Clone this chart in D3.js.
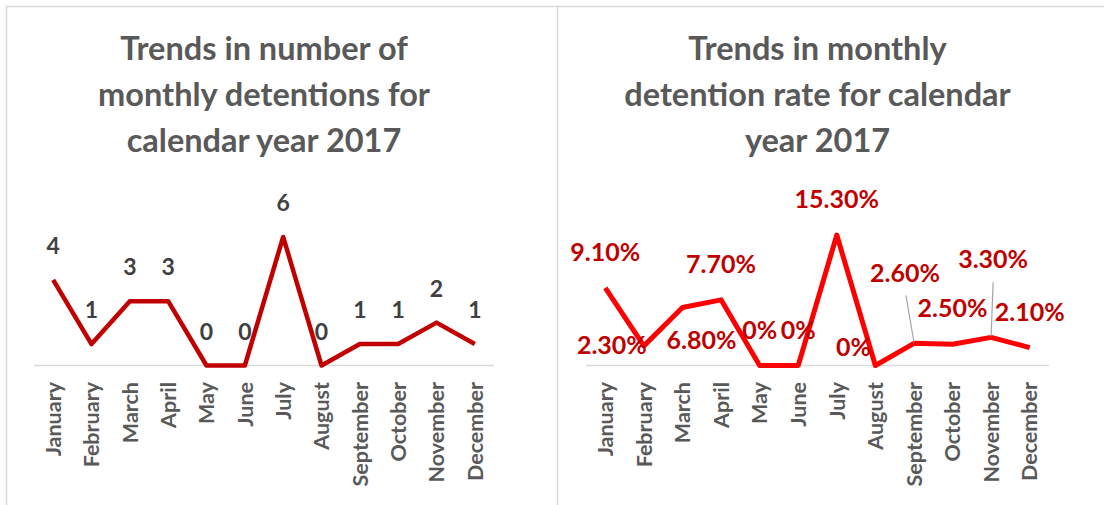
<!DOCTYPE html>
<html>
<head>
<meta charset="utf-8">
<script src="https://cdn.jsdelivr.net/npm/d3@7"></script>
<style>
  body { margin: 0; background: #fff; }
  svg text { font-family: Lato, "Open Sans", sans-serif; font-weight: bold; }
</style>
</head>
<body>
<svg id="chart" width="1104" height="505"></svg>
<script>
// chart data
var months = ["January", "February", "March", "April", "May", "June", "July", "August", "September", "October", "November", "December"];
var detentions = [4, 1, 3, 3, 0, 0, 6, 0, 1, 1, 2, 1]; // number of detentions
var rates = [9.1, 2.3, 6.8, 7.7, 0, 0, 15.3, 0, 2.6, 2.5, 3.3, 2.1]; // detention rate in %
var leftTitle = ["Trends in number of", "monthly detentions for", "calendar year 2017"];
var rightTitle = ["Trends in monthly", "detention rate for calendar", "year 2017"];

// label placement for the rate chart (dx, dy from the point), excel put some by hand
var rateLabelOffsets = [[0, -27], [-32, 8], [19, 41], [0, -27], [0, -27], [0, -27], [0, -27], [-22, -10], [-9, -61], [0, -27], [2, -69], [0, -27]];
var leaderLines = {8: [[-8, -48], [0, -1]], 10: [[2, -55], [0, -1]]}; // index -> [from, to] offsets

var svg = d3.select("#chart");
var baseY = 365.5;

// panel borders
svg.append("path")
  .attr("d", "M6.5,505 V6.5 H1104 M557.5,6.5 V505")
  .attr("fill", "none").attr("stroke", "#d9d9d9").attr("stroke-width", 1.5);

function drawPanel(opts) {
  var x = d3.scalePoint().domain(months).range([opts.x0, opts.x1]).padding(0.5);
  var y = d3.scaleLinear().domain(opts.yDomain).range([baseY, opts.yTop]);
  var g = svg.append("g");

  // title
  g.append("text")
    .attr("text-anchor", "middle")
    .attr("fill", "#595959")
    .style("font-size", "32.5px")
    .selectAll("tspan").data(opts.title).join("tspan")
    .attr("x", (opts.x0 + opts.x1) / 2)
    .attr("y", (d, i) => 60 + i * 46)
    .text(d => d);

  // category axis line
  g.append("line")
    .attr("x1", opts.x0).attr("x2", opts.x1)
    .attr("y1", baseY).attr("y2", baseY)
    .attr("stroke", "#d9d9d9").attr("stroke-width", 1.5);

  // month labels, rotated
  g.selectAll(".month").data(months).join("text")
    .attr("class", "month")
    .attr("transform", d => "translate(" + x(d) + "," + 382 + ") rotate(-90)")
    .attr("text-anchor", "end")
    .attr("dy", "0.36em")
    .attr("fill", "#595959")
    .style("font-size", "21.5px")
    .text(d => d);

  // the line
  var line = d3.line().x((d, i) => x(months[i])).y(d => y(d));
  g.append("path")
    .datum(opts.values)
    .attr("d", line)
    .attr("fill", "none")
    .attr("stroke", opts.color)
    .attr("stroke-width", opts.width)
    .attr("stroke-linejoin", "round");

  // leader lines
  Object.keys(opts.leaders || {}).forEach(k => {
    var px = x(months[k]), py = y(opts.values[k]), l = opts.leaders[k];
    g.append("line")
      .attr("x1", px + l[0][0]).attr("y1", py + l[0][1])
      .attr("x2", px + l[1][0]).attr("y2", py + l[1][1])
      .attr("stroke", "#a6a6a6").attr("stroke-width", 1.2);
  });

  // data labels
  g.selectAll(".lbl").data(opts.values).join("text")
    .attr("class", "lbl")
    .attr("x", (d, i) => x(months[i]) + opts.offsets(i)[0])
    .attr("y", (d, i) => y(d) + opts.offsets(i)[1])
    .attr("text-anchor", "middle")
    .attr("fill", opts.labelColor)
    .style("font-size", opts.labelSize)
    .text(opts.format);
}

drawPanel({
  x0: 34, x1: 494, yDomain: [0, 7], yTop: 215.5,
  title: leftTitle, values: detentions,
  color: "#c00000", width: 4.5,
  labelColor: "#404040", labelSize: "23px",
  offsets: i => [0, -26],
  format: d => d
});

drawPanel({
  x0: 586, x1: 1049, yDomain: [0, 18], yTop: 212,
  title: rightTitle, values: rates,
  color: "#ff0000", width: 5,
  labelColor: "#c00000", labelSize: "25px",
  offsets: i => rateLabelOffsets[i],
  leaders: leaderLines,
  format: d => d === 0 ? "0%" : d.toFixed(2) + "%"
});
</script>
</body>
</html>
